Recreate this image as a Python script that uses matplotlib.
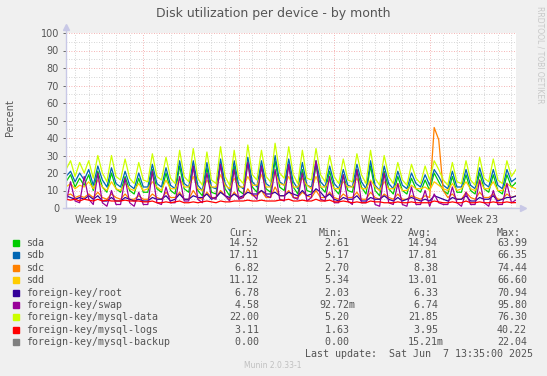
import numpy as np
import matplotlib
matplotlib.use('Agg')
import matplotlib.pyplot as plt
from matplotlib.patches import Rectangle

# samples every 8 hours, 33 days, x in days from left edge of the graph
sda = [15, 19, 12, 17, 13, 19, 10, 21, 12, 9, 20, 11, 9, 18, 10, 8, 17, 9,
       9, 22, 11, 9, 20, 10, 8, 24, 11, 9, 24, 10, 7, 23, 9, 8, 25, 11,
       7, 24, 10, 8, 26, 12, 9, 24, 11, 9, 27, 12, 10, 25, 12, 8, 22, 10,
       9, 24, 12, 9, 21, 11, 8, 19, 10, 9, 22, 12, 8, 24, 10, 7, 21, 11,
       8, 18, 10, 8, 17, 11, 9, 16, 10, 20, 15, 10, 8, 18, 9, 9, 19, 10,
       8, 20, 11, 9, 19, 10, 8, 19, 12, 14.5]
sdb = [18, 21, 15, 20, 16, 22, 13, 24, 16, 12, 23, 14, 12, 21, 13, 11, 20, 12,
       12, 25, 14, 12, 23, 13, 11, 27, 14, 12, 27, 13, 10, 26, 12, 11, 28, 14,
       10, 27, 13, 11, 29, 15, 12, 27, 14, 12, 30, 15, 13, 28, 15, 11, 26, 13,
       12, 27, 15, 12, 24, 14, 11, 22, 13, 12, 25, 15, 11, 27, 13, 10, 24, 14,
       11, 21, 13, 11, 20, 14, 12, 19, 13, 22, 18, 13, 11, 21, 12, 12, 22, 13,
       11, 23, 14, 12, 22, 13, 11, 22, 15, 17]
sdc = [7, 8, 6, 7, 6, 8, 6, 9, 6, 5, 8, 6, 5, 8, 5, 5, 7, 5,
       5, 8, 6, 5, 9, 6, 6, 9, 5, 5, 10, 6, 5, 9, 6, 6, 10, 7,
       5, 9, 6, 6, 11, 7, 7, 10, 6, 6, 12, 7, 7, 10, 6, 6, 9, 7,
       6, 10, 6, 6, 9, 6, 5, 8, 6, 6, 9, 5, 5, 9, 6, 5, 8, 6,
       5, 8, 5, 5, 7, 6, 5, 7, 6, 46, 39, 10, 6, 8, 5, 5, 9, 6,
       5, 9, 6, 6, 8, 5, 5, 8, 6, 7]
sdd = [12, 14, 11, 13, 12, 15, 11, 16, 12, 10, 15, 11, 10, 14, 11, 10, 14, 10,
       11, 15, 12, 10, 16, 11, 11, 17, 12, 12, 18, 11, 10, 16, 12, 12, 19, 13,
       11, 17, 12, 12, 18, 13, 13, 19, 12, 12, 20, 14, 13, 18, 12, 12, 17, 13,
       11, 18, 12, 12, 16, 11, 11, 15, 12, 12, 17, 11, 11, 16, 12, 10, 15, 11,
       11, 14, 10, 10, 13, 11, 11, 12, 10, 15, 13, 11, 10, 14, 10, 11, 15, 11,
       10, 16, 11, 11, 15, 10, 10, 14, 12, 11]
root = [7, 6, 5, 6, 5, 7, 5, 7, 4, 4, 6, 4, 4, 6, 5, 4, 5, 4,
        4, 6, 5, 5, 7, 4, 5, 8, 5, 5, 7, 6, 6, 8, 5, 6, 9, 7,
        6, 8, 6, 7, 9, 8, 8, 10, 8, 8, 9, 7, 7, 9, 8, 7, 10, 7,
        8, 11, 9, 6, 8, 5, 4, 6, 5, 5, 7, 4, 4, 6, 5, 5, 7, 5,
        4, 6, 4, 5, 6, 5, 4, 5, 4, 7, 6, 5, 4, 6, 5, 5, 7, 4,
        4, 6, 5, 5, 7, 4, 5, 6, 6, 6.8]
swap = [3, 15, 4, 3, 18, 5, 2, 20, 3, 1, 10, 2, 2, 17, 3, 1, 9, 2,
        2, 21, 3, 2, 12, 3, 3, 18, 4, 4, 24, 5, 3, 20, 6, 5, 25, 7,
        4, 22, 5, 6, 26, 8, 5, 24, 7, 6, 22, 5, 4, 25, 6, 5, 20, 4,
        6, 27, 5, 4, 18, 3, 3, 19, 4, 2, 22, 3, 3, 15, 2, 1, 20, 3,
        2, 14, 2, 1, 12, 2, 2, 10, 1, 8, 3, 2, 2, 12, 3, 1, 9, 2,
        2, 16, 3, 1, 10, 2, 2, 14, 3, 4.6]
mysql_data = [22, 27, 18, 26, 20, 27, 17, 30, 20, 15, 30, 18, 16, 28, 17, 14, 26, 16,
              15, 31, 18, 16, 29, 17, 14, 33, 18, 15, 34, 17, 13, 32, 16, 14, 35, 18,
              13, 33, 17, 14, 36, 19, 16, 33, 18, 15, 37, 20, 17, 35, 19, 14, 33, 17,
              16, 34, 19, 15, 30, 18, 14, 28, 16, 15, 31, 19, 14, 33, 17, 13, 30, 18,
              14, 26, 16, 13, 25, 17, 14, 24, 16, 27, 22, 16, 13, 26, 15, 14, 27, 16,
              13, 29, 17, 15, 28, 16, 14, 27, 18, 22]
mysql_logs = [5, 4.5, 5, 4, 5, 4.5, 4, 5, 4, 4.5, 4, 4, 4, 4.5, 4, 4, 4, 3.5,
              3.5, 4, 3, 3, 3.5, 3, 3.5, 4, 3, 3, 3.5, 3, 3.5, 4, 3.5, 3, 4, 3.5,
              3.5, 4, 4, 4, 4.5, 4, 4, 4.5, 4, 4, 4, 4.5, 4.5, 5, 4, 4, 4.5, 4,
              4, 5, 4, 4, 4.5, 3.5, 3.5, 4, 3.5, 3, 3.5, 3, 3, 4, 3.5, 3.5, 3, 3,
              3, 3.5, 3, 3, 3.5, 3, 3, 3, 3, 4, 3.5, 3, 3, 3.5, 3, 3, 4, 3,
              3, 3.5, 3, 3, 3.5, 3, 3, 3.5, 3, 3.1]
mysql_backup = [0.0] * len(sda)

names = ['sda', 'sdb', 'sdc', 'sdd', 'foreign-key/root', 'foreign-key/swap',
         'foreign-key/mysql-data', 'foreign-key/mysql-logs', 'foreign-key/mysql-backup']
colors = ['#00CC00', '#0066B3', '#FF8000', '#FFCC00', '#330099', '#990099',
          '#CCFF00', '#FF0000', '#808080']
cur = ['14.52', '17.11', ' 6.82', '11.12', ' 6.78', ' 4.58', '22.00', ' 3.11', ' 0.00']
mins = [' 2.61', ' 5.17', ' 2.70', ' 5.34', ' 2.03', '92.72m', ' 5.20', ' 1.63', ' 0.00']
avgs = ['14.94', '17.81', ' 8.38', '13.01', ' 6.33', ' 6.74', '21.85', ' 3.95', '15.21m']
maxs = ['63.99', '66.35', '74.44', '66.60', '70.94', '95.80', '76.30', '40.22', '22.04']

week_labels = ['Week 19', 'Week 20', 'Week 21', 'Week 22', 'Week 23']
week_starts = [5.67, 12.67, 19.67, 26.67]

series = [sda, sdb, sdc, sdd, root, swap, mysql_data, mysql_logs, mysql_backup]
t = np.arange(len(sda)) / 3.0

W, H = 547, 376
def fx(px):
    return px / W
def fy(py):
    return 1 - py / H

fig = plt.figure(figsize=(W / 100, H / 100), dpi=100, facecolor='#F0F0F0')
ax = fig.add_axes([fx(66), fy(208), fx(516) - fx(66), (208 - 33) / H])
ax.set_facecolor('white')

xmax = 33.0
ax.set_xlim(0, xmax)
ax.set_ylim(0, 100)

# grid
for d in np.arange(0.67, xmax, 1.0):
    if not any(abs(d - w) < 0.01 for w in week_starts):
        ax.axvline(d, color='#C8C8C8', lw=0.6, ls=(0, (1, 2)), zorder=1)
for w in week_starts:
    ax.axvline(w, color='#F29A9A', lw=0.6, ls=(0, (1, 2)), zorder=1)
for v in range(5, 101, 10):
    ax.axhline(v, color='#C8C8C8', lw=0.6, ls=(0, (1, 2)), zorder=1)
for v in range(10, 101, 10):
    ax.axhline(v, color='#F29A9A', lw=0.6, ls=(0, (1, 2)), zorder=1)

for s, c in zip(series, colors):
    ax.plot(t, s, color=c, lw=0.9, zorder=3)

for sp in ax.spines.values():
    sp.set_visible(False)
axis_col = '#C8C8E6'
ax.plot([0, 0], [0, 103], color=axis_col, lw=1, clip_on=False, zorder=4)
ax.plot([-0.2, 33.45], [0, 0], color=axis_col, lw=1, clip_on=False, zorder=4)
ax.plot([0], [103.5], marker='^', ms=4, color=axis_col, clip_on=False, zorder=4)
ax.plot([33.5], [0], marker='>', ms=4, color=axis_col, clip_on=False, zorder=4)

ax.set_yticks(range(0, 101, 10))
ax.set_yticklabels([str(v) for v in range(0, 101, 10)])
ax.set_xticks([w - 3.5 for w in week_starts] + [week_starts[-1] + 3.5])
ax.set_xticklabels(week_labels)
ax.tick_params(axis='both', colors='#555555', labelsize=7, length=2, width=0.6,
               labelcolor='#555555', pad=3)
ax.tick_params(axis='x', length=0, pad=5)

fig.text(fx(273), fy(13), 'Disk utilization per device - by month', ha='center',
         va='center', fontsize=9, color='#555555')
fig.text(fx(10), fy(118), 'Percent', rotation=90, ha='center', va='center',
         fontsize=7, color='#555555')
fig.text(fx(540), fy(6), 'RRDTOOL / TOBI OETIKER', rotation=270, ha='center',
         va='top', fontsize=5.5, color='#C8C8C8')

# legend
mono = dict(family='DejaVu Sans Mono', fontsize=7.2, color='#555555', va='center')
col_x = [229, 319, 408, 497]
for hx, h in zip(col_x, ['Cur:', 'Min:', 'Avg:', 'Max:']):
    fig.text(fx(hx), fy(233), h, ha='left', **mono)
for i, name in enumerate(names):
    yy = 243 + 12.4 * i
    fig.patches.append(Rectangle((fx(13), fy(yy + 3)), fx(6), 6 / H,
                                 transform=fig.transFigure, color=colors[i]))
    fig.text(fx(26), fy(yy), name, ha='left', **mono)
    for hx, val in zip(col_x, [cur[i], mins[i], avgs[i], maxs[i]]):
        fig.text(fx(hx), fy(yy), val, ha='left', **mono)
fig.text(fx(533), fy(354), 'Last update:  Sat Jun  7 13:35:00 2025', ha='right', **mono)
fig.text(fx(273), fy(366), 'Munin 2.0.33-1', ha='center', va='center',
         fontsize=5.5, color='#C0C0C0')

fig.savefig('out.png', dpi=100, facecolor=fig.get_facecolor())
